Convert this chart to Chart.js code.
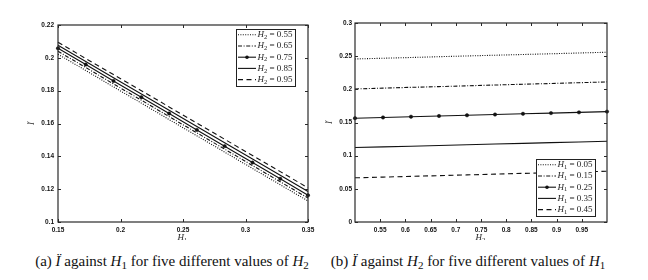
<!DOCTYPE html>
<html>
<head>
<meta charset="utf-8">
<script src="https://cdn.jsdelivr.net/npm/chart.js@4/dist/chart.umd.min.js"></script>
<style>
  body { margin: 0; background: #fff; }
  #wrap { position: relative; width: 648px; height: 280px; overflow: hidden; }
  canvas { position: absolute; top: 0; }
  .cap { position: absolute; top: 253px; font: 15px "Liberation Serif", serif; color: #111; white-space: nowrap; transform: translateX(-50%); }
  .cap sub { font-size: 11px; vertical-align: -3px; line-height: 0; }
</style>
</head>
<body>
<div id="wrap">
  <canvas id="chartA" width="324" height="240" style="left:0"></canvas>
  <canvas id="chartB" width="324" height="240" style="left:324px"></canvas>
  <div class="cap" style="left:172px">(a) <i>Ï</i> against <i>H</i><sub>1</sub> for five different values of <i>H</i><sub>2</sub></div>
  <div class="cap" style="left:468px">(b) <i>Ï</i> against <i>H</i><sub>2</sub> for five different values of <i>H</i><sub>1</sub></div>
</div>
<script>
// (a) I'' vs H1, one line per H2
const h1Values = [0.15, 0.1722, 0.1944, 0.2167, 0.2389, 0.2611, 0.2833, 0.3056, 0.3278, 0.35];
const h2Labels = ['0.55', '0.65', '0.75', '0.85', '0.95'];
const iA_055 = [0.2022, 0.1923, 0.1823, 0.1724, 0.1624, 0.1525, 0.1426, 0.1326, 0.1227, 0.1128];
const iA_065 = [0.2040, 0.1941, 0.1841, 0.1742, 0.1642, 0.1543, 0.1444, 0.1344, 0.1245, 0.1146];
const iA_075 = [0.2058, 0.1959, 0.1859, 0.1760, 0.1661, 0.1561, 0.1462, 0.1362, 0.1263, 0.1163];
const iA_085 = [0.2077, 0.1978, 0.1879, 0.1780, 0.1681, 0.1582, 0.1483, 0.1384, 0.1285, 0.1186];
const iA_095 = [0.2095, 0.1996, 0.1898, 0.1800, 0.1701, 0.1602, 0.1504, 0.1405, 0.1307, 0.1208];
const ticksAx = [0.15, 0.2, 0.25, 0.3, 0.35];
const ticksAy = [0.1, 0.12, 0.14, 0.16, 0.18, 0.2, 0.22];

// (b) I'' vs H2, one line per H1
const h2Values = [0.5, 0.5556, 0.6111, 0.6667, 0.7222, 0.7778, 0.8333, 0.8889, 0.9444, 1.0];
const h1Labels = ['0.05', '0.15', '0.25', '0.35', '0.45'];
const iB_005 = [0.2458, 0.2469, 0.2480, 0.2492, 0.2503, 0.2514, 0.2525, 0.2536, 0.2548, 0.2559];
const iB_015 = [0.2006, 0.2018, 0.2030, 0.2041, 0.2053, 0.2065, 0.2077, 0.2088, 0.2100, 0.2112];
const iB_025 = [0.1565, 0.1576, 0.1587, 0.1598, 0.1609, 0.1620, 0.1631, 0.1642, 0.1653, 0.1664];
const iB_035 = [0.1122, 0.1133, 0.1143, 0.1154, 0.1165, 0.1175, 0.1186, 0.1197, 0.1207, 0.1218];
const iB_045 = [0.0666, 0.0677, 0.0688, 0.0699, 0.0710, 0.0721, 0.0733, 0.0744, 0.0755, 0.0766];
const ticksBx = [0.55, 0.6, 0.65, 0.7, 0.75, 0.8, 0.85, 0.9, 0.95];
const ticksBy = [0, 0.05, 0.1, 0.15, 0.2, 0.25, 0.3];

// line styles: dotted, dash-dot, marked solid, solid, dashed
const lineStyles = [
  { dash: [1, 1.4], marker: false },
  { dash: [4, 1.6, 1, 1.6], marker: false },
  { dash: [], marker: true },
  { dash: [], marker: false },
  { dash: [5, 3.5], marker: false }
];

const makeSets = (xs, series, labels) => series.map((ys, i) => ({
  label: labels[i],
  data: xs.map((x, j) => ({ x: x, y: ys[j] })),
  borderColor: '#111',
  backgroundColor: '#111',
  borderWidth: 1.1,
  borderDash: lineStyles[i].dash,
  pointRadius: lineStyles[i].marker ? 1.7 : 0,
  pointBorderWidth: 0.5,
  pointHoverRadius: 0,
  tension: 0,
  clip: false
}));

const fmt = v => String(+v.toFixed(2));
const tickFont = { family: 'Liberation Sans', size: 6.5, weight: 'bold' };

// frame, inward tick marks, axis titles and boxed legend
const framePlugin = {
  id: 'frame',
  afterDraw(chart, args, o) {
    const { ctx, chartArea: a, scales: { x, y } } = chart;
    ctx.save();
    ctx.strokeStyle = '#2a2a2a';
    ctx.lineWidth = 1.2;
    ctx.setLineDash([]);
    ctx.strokeRect(a.left, a.top, a.right - a.left, a.bottom - a.top);
    ctx.lineWidth = 1;
    o.xTicks.forEach(v => {
      const px = Math.round(x.getPixelForValue(v)) + 0.5;
      ctx.beginPath();
      ctx.moveTo(px, a.bottom); ctx.lineTo(px, a.bottom - 3);
      ctx.moveTo(px, a.top); ctx.lineTo(px, a.top + 3);
      ctx.stroke();
    });
    o.yTicks.forEach(v => {
      const py = Math.round(y.getPixelForValue(v)) + 0.5;
      ctx.beginPath();
      ctx.moveTo(a.left, py); ctx.lineTo(a.left + 3, py);
      ctx.moveTo(a.right, py); ctx.lineTo(a.right - 3, py);
      ctx.stroke();
    });

    // x title: italic H with subscript
    ctx.fillStyle = '#222';
    ctx.textBaseline = 'middle';
    const cx = (a.left + a.right) / 2;
    ctx.font = 'italic 9px "Liberation Serif"';
    ctx.textAlign = 'right';
    ctx.fillText('H', cx + 1, a.bottom + 16);
    ctx.font = '6.5px "Liberation Serif"';
    ctx.textAlign = 'left';
    ctx.fillText(o.xSub, cx + 1, a.bottom + 18.5);

    // y title, rotated
    ctx.save();
    ctx.translate(a.left - o.yTitleGap, (a.top + a.bottom) / 2);
    ctx.rotate(-Math.PI / 2);
    ctx.font = 'italic 9px "Liberation Serif"';
    ctx.textAlign = 'center';
    ctx.fillText('Ï', 0, 0);
    ctx.restore();

    // legend
    const bw = 59, bh = 57;
    const bx = a.right - o.legendRight - bw;
    const by = o.legendTop != null ? a.top + o.legendTop : a.bottom - o.legendBottom - bh;
    ctx.fillStyle = '#fff';
    ctx.fillRect(bx, by, bw, bh);
    ctx.strokeStyle = '#222';
    ctx.lineWidth = 1;
    ctx.strokeRect(bx + 0.5, by + 0.5, bw, bh);
    chart.data.datasets.forEach((ds, i) => {
      const ry = by + 5.8 + i * 11.2;
      ctx.strokeStyle = '#111';
      ctx.lineWidth = 1.1;
      ctx.setLineDash(ds.borderDash);
      ctx.beginPath();
      ctx.moveTo(bx + 2, ry); ctx.lineTo(bx + 20, ry);
      ctx.stroke();
      ctx.setLineDash([]);
      if (ds.pointRadius > 0) {
        ctx.fillStyle = '#111';
        ctx.beginPath();
        ctx.arc(bx + 11, ry, 1.8, 0, Math.PI * 2);
        ctx.fill();
      }
      ctx.fillStyle = '#222';
      ctx.textAlign = 'left';
      let tx = bx + 21.5;
      ctx.font = 'italic 9px "Liberation Serif"';
      ctx.fillText('H', tx, ry);
      tx += ctx.measureText('H').width;
      ctx.font = '6.5px "Liberation Serif"';
      ctx.fillText(o.legendSub, tx, ry + 2.5);
      tx += ctx.measureText(o.legendSub).width;
      ctx.font = '9px "Liberation Serif"';
      ctx.fillText(' = ' + ds.label, tx, ry);
    });
    ctx.restore();
  }
};

const makeChart = (id, sets, xr, yr, xTicks, yTicks, pad, yWidth, yPad, extra) => new Chart(document.getElementById(id), {
  type: 'line',
  data: { datasets: sets },
  options: {
    responsive: false,
    animation: false,
    events: [],
    layout: { padding: pad },
    plugins: { legend: { display: false }, tooltip: { enabled: false }, frame: Object.assign({ xTicks: xTicks, yTicks: yTicks }, extra) },
    scales: {
      x: {
        type: 'linear', min: xr[0], max: xr[1],
        afterBuildTicks: s => { s.ticks = xTicks.map(v => ({ value: v })); },
        afterFit: s => { s.height = 18; },
        grid: { display: false, drawTicks: false },
        border: { display: false },
        ticks: { padding: 4, color: '#111', font: tickFont, callback: fmt, maxRotation: 0, autoSkip: false }
      },
      y: {
        type: 'linear', min: yr[0], max: yr[1],
        afterBuildTicks: s => { s.ticks = yTicks.map(v => ({ value: v })); },
        afterFit: s => { s.width = yWidth; },
        grid: { display: false, drawTicks: false },
        border: { display: false },
        ticks: { padding: yPad, color: '#111', font: tickFont, callback: fmt, autoSkip: false }
      }
    }
  },
  plugins: [framePlugin]
});

makeChart('chartA', makeSets(h1Values, [iA_055, iA_065, iA_075, iA_085, iA_095], h2Labels),
  [0.15, 0.35], [0.1, 0.22], ticksAx, ticksAy,
  { top: 25, right: 16, left: 0, bottom: 0 }, 58, 4,
  { xSub: '1', legendSub: '2', yTitleGap: 26, legendRight: 13, legendTop: 4 });

makeChart('chartB', makeSets(h2Values, [iB_005, iB_015, iB_025, iB_035, iB_045], h1Labels),
  [0.5, 1.0], [0, 0.3], ticksBx, ticksBy,
  { top: 23, right: 41, left: 0, bottom: 0 }, 31, 3,
  { xSub: '2', legendSub: '1', yTitleGap: 25, legendRight: 12, legendBottom: 6 });
</script>
</body>
</html>
